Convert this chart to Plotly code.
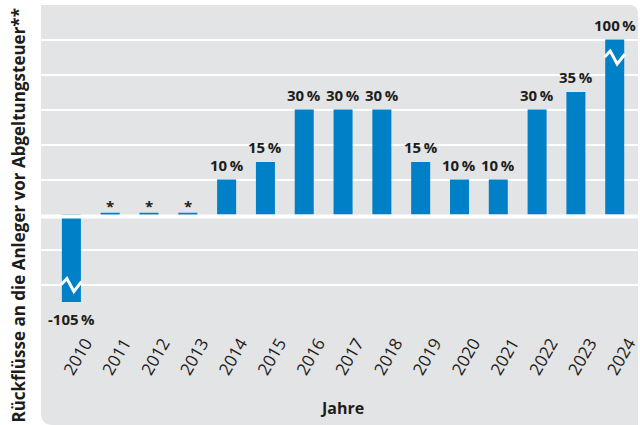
import plotly.graph_objects as go

# ---- data ----
years = ["2010", "2011", "2012", "2013", "2014", "2015", "2016", "2017",
         "2018", "2019", "2020", "2021", "2022", "2023", "2024"]
# bar heights as drawn on the (broken) axis, in %
bar_heights = [-25, 0.5, 0.5, 0.5, 10, 15, 30, 30, 30, 15, 10, 10, 30, 35, 50]
# printed value labels
value_labels = ["-105\u2009%", "*", "*", "*", "10\u2009%", "15\u2009%", "30\u2009%", "30\u2009%",
                "30\u2009%", "15\u2009%", "10\u2009%", "10\u2009%", "30\u2009%", "35\u2009%", "100\u2009%"]
# bars whose axis is broken (value exceeds drawn height)
broken = [True, False, False, False, False, False, False, False,
          False, False, False, False, False, False, True]

y_title = "Rückflüsse an die Anleger vor Abgeltungsteuer**"
x_title = "Jahre"

BLUE = "#0080C6"
GREY = "#E3E4E6"
TXT = "#1d1d1b"
FONT = "Open Sans"

W, H = 640, 425
ML, MR, MT, MB = 41, 0, 5, 105
PW, PH = W - ML - MR, H - MT - MB

x_idx = list(range(len(years)))

fig = go.Figure()
fig.add_trace(go.Bar(
    x=x_idx, y=bar_heights, width=0.49,
    marker=dict(color=BLUE, line=dict(width=0)),
    hoverinfo="skip",
))

# value labels
for i, (h, lab) in enumerate(zip(bar_heights, value_labels)):
    if h >= 0:
        ys = -5 if lab == "*" else 3
        fig.add_annotation(x=i, y=h, text=lab, showarrow=False, yanchor="bottom",
                           yshift=ys, font=dict(family=FONT, size=15, color=TXT, weight="bold"))
    else:
        fig.add_annotation(x=i, y=h, text=lab, showarrow=False, yanchor="top",
                           yshift=-5, font=dict(family=FONT, size=15, color=TXT, weight="bold"))

# break waves on broken bars
for i, (h, b) in enumerate(zip(bar_heights, broken)):
    if not b:
        continue
    c = h - 5 if h > 0 else h + 5
    pts = [(i - 0.26, c), (i - 0.116, c + 1.7), (i + 0.064, c - 2.0), (i + 0.26, c + 0.8)]
    path = "M " + " L ".join(f"{px},{py}" for px, py in pts)
    fig.add_shape(type="path", path=path, xref="x", yref="y",
                  line=dict(color="white", width=3), layer="above")

# thick zero line just below 0
fig.add_shape(type="rect", xref="paper", yref="y", x0=0, x1=1,
              ysizemode="pixel", yanchor=0, y0=-4, y1=0,
              fillcolor="white", line=dict(width=0), layer="above")

# grey panel with rounded corners (top-right, bottom-left)
y0p = -MB / PH
r_tr, r_bl = 9, 12
path = (f"M 0,{y0p + r_bl / PH} L 0,1 L {1 - r_tr / PW},1 Q 1,1 1,{1 - r_tr / PH} "
        f"L 1,{y0p} L {r_bl / PW},{y0p} Q 0,{y0p} 0,{y0p + r_bl / PH} Z")
fig.add_shape(type="path", path=path, xref="paper", yref="paper",
              fillcolor=GREY, line=dict(width=0), layer="below")

# axis titles
fig.add_annotation(text=y_title, xref="paper", yref="paper", x=(18 - ML) / PW,
                   y=(MT + PH - 215.5) / PH, textangle=-90, showarrow=False,
                   xanchor="center", yanchor="middle",
                   font=dict(family=FONT, size=17, color=TXT, weight="bold"))
fig.add_annotation(text=x_title, xref="paper", yref="paper", x=(343 - ML) / PW,
                   y=(MT + PH - 408) / PH, showarrow=False,
                   xanchor="center", yanchor="middle",
                   font=dict(family=FONT, size=16, color=TXT, weight="bold"))

zero_px = 214.5
ppu = 3.5
fig.update_layout(
    width=W, height=H,
    margin=dict(l=ML, r=MR, t=MT, b=MB),
    paper_bgcolor="white", plot_bgcolor="rgba(0,0,0,0)",
    showlegend=False,
    xaxis=dict(range=[-0.783, 14.6], tickvals=x_idx, ticktext=years,
               tickangle=-60, showgrid=False, zeroline=False, showline=False,
               ticks="", tickfont=dict(family=FONT, size=17, color=TXT),
               ticklabelshift=14, ticklabelstandoff=9, ticklabeloverflow="allow",
               fixedrange=True),
    yaxis=dict(range=[-(MT + PH - zero_px) / ppu, (zero_px - MT) / ppu],
               tickvals=[-20, -10, 10, 20, 30, 40, 50], showticklabels=False,
               showgrid=True, gridcolor="white", gridwidth=2,
               zeroline=False, showline=False, ticks="", fixedrange=True),
)

fig.write_html("out.html", config={"displayModeBar": False},
               post_script="document.body.style.margin='0';document.body.style.overflow='hidden';")
